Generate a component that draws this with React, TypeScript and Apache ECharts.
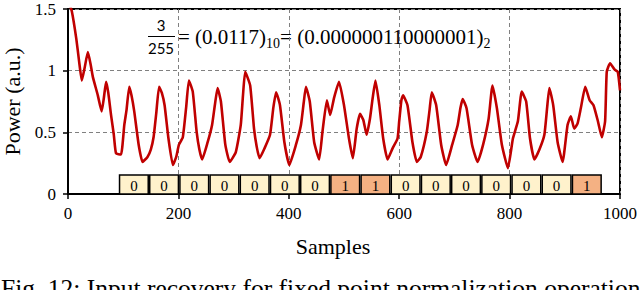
import React, { useEffect, useRef } from "react";
import * as echarts from "echarts";

// ---- data ----
const samples = [
  0, 7, 15, 20, 25, 30, 36, 41, 45, 54, 61, 65, 69, 73, 78, 83, 87, 96, 102, 106,
  111, 115, 120, 128, 135, 144, 150, 155, 160, 165, 170, 175, 182, 190, 196, 201,
  208, 214, 219, 226, 233, 238, 243, 253, 261, 266, 271, 277, 285, 293, 304, 313,
  317, 321, 330, 337, 342, 347, 356, 366, 372, 377, 384, 392, 401, 413, 422, 427,
  431, 438, 446, 455, 461, 469, 475, 482, 491, 500, 509, 516, 523, 529, 535, 541,
  547, 552, 557, 564, 571, 579, 588, 597, 600, 604, 607, 615, 624, 632, 639, 650,
  655, 659, 667, 676, 685, 696, 706, 711, 715, 722, 732, 742, 752, 762, 769, 777,
  786, 797, 806, 815, 822, 830, 837, 845, 854, 863, 868, 872, 879, 887, 896, 905,
  911, 917, 923, 929, 937, 945, 952, 960, 967, 973, 976, 982, 990, 996, 1000,
];
const power = [
  1.58, 1.48, 1.26, 1.08, 0.92, 1.02, 1.15, 1.05, 0.95, 0.8, 0.67, 0.78, 0.91, 0.82, 0.64, 0.48, 0.33, 0.32, 0.56, 0.68,
  0.87, 0.8, 0.67, 0.4, 0.26, 0.3, 0.36, 0.46, 0.66, 0.87, 0.82, 0.72, 0.45, 0.235, 0.3, 0.4,
  0.46, 0.7, 0.92, 0.83, 0.505, 0.36, 0.28, 0.42, 0.56, 0.72, 0.86, 0.75, 0.4, 0.26, 0.34, 0.56,
  0.8, 0.99, 0.88, 0.53, 0.38, 0.29, 0.37, 0.48, 0.7, 0.825, 0.72, 0.42, 0.235, 0.4, 0.56, 0.74,
  0.87, 0.75, 0.42, 0.28, 0.505, 0.76, 0.64, 0.78, 0.91, 0.72, 0.45, 0.29, 0.53, 0.65, 0.6, 0.48,
  0.61, 0.78, 0.92, 0.72, 0.45, 0.28, 0.37, 0.45, 0.59, 0.76, 0.8, 0.72, 0.42, 0.26, 0.3, 0.505,
  0.68, 0.825, 0.72, 0.4, 0.235, 0.4, 0.56, 0.7, 0.77, 0.695, 0.4, 0.26, 0.4, 0.61, 0.88, 0.695,
  0.4, 0.21, 0.45, 0.59, 0.83, 0.75, 0.45, 0.28, 0.36, 0.48, 0.7, 0.86, 0.72, 0.42, 0.26, 0.56,
  0.63, 0.53, 0.57, 0.695, 0.87, 0.76, 0.72, 0.59, 0.46, 0.59, 0.99, 1.06, 1.01, 0.99, 0.84,
];
const bits = [0, 0, 0, 0, 0, 0, 0, 1, 1, 0, 0, 0, 0, 0, 0, 1];
const xTicks = { min: 0, max: 1000, interval: 200 };
const yTicks = { min: 0, max: 1.5, interval: 0.5 };

// bit boxes placement in data units
const BIT_START = 92;
const BIT_WIDTH = 54.7;
const BOX_TOP = 0.154;
const BOX_BOTTOM = 0;

const SERIF = '"Liberation Serif", "Times New Roman", serif';

export default function App() {
  const ref = useRef<HTMLDivElement>(null);
  useEffect(() => {
    if (!ref.current) return;
    const chart = echarts.init(ref.current, null, { renderer: "svg" });
    const axisText = { color: "#000", fontFamily: SERIF, fontSize: 17, formatter: (v: number) => String(v) };
    const option: any = {
      animation: false,
      grid: {
        left: 68,
        right: 20,
        top: 9,
        bottom: 96,
        show: true,
        borderColor: "#000",
        borderWidth: 2,
        containLabel: false,
        outerBoundsMode: "none",
      },
      xAxis: {
        type: "value",
        ...xTicks,
        name: "Samples",
        nameLocation: "middle",
        nameGap: 41,
        nameTextStyle: { color: "#000", fontFamily: SERIF, fontSize: 22, padding: [0, 22, 0, 0] },
        axisLine: { show: true, lineStyle: { color: "#000", width: 2 } },
        axisTick: { show: true, length: 5, lineStyle: { color: "#000", width: 1.5 } },
        axisLabel: { ...axisText, margin: 11 },
        splitLine: { show: true, lineStyle: { color: "#808080", type: [4, 3], width: 1 } },
      },
      yAxis: {
        type: "value",
        ...yTicks,
        name: "Power (a.u.)",
        nameLocation: "middle",
        nameGap: 39,
        nameTextStyle: { color: "#000", fontFamily: SERIF, fontSize: 22 },
        axisLine: { show: true, lineStyle: { color: "#000", width: 2 } },
        axisTick: { show: true, length: 5, lineStyle: { color: "#000", width: 1.5 } },
        axisLabel: { ...axisText, margin: 12 },
        splitLine: { show: true, lineStyle: { color: "#808080", type: [4, 3], width: 1 } },
      },
      series: [
        {
          type: "line",
          data: samples.map((s, i) => [s, power[i]]),
          showSymbol: false,
          smooth: 0.15,
          clip: true,
          lineStyle: { color: "#C00000", width: 2.6 },
          z: 2,
        },
        {
          type: "custom",
          coordinateSystem: "cartesian2d",
          clip: false,
          z: 3,
          data: bits.map((b, i) => [i, b]),
          renderItem: (params: any, api: any) => {
            const i = api.value(0);
            const b = api.value(1);
            const p0 = api.coord([BIT_START + i * BIT_WIDTH, BOX_TOP]);
            const p1 = api.coord([BIT_START + (i + 1) * BIT_WIDTH, BOX_BOTTOM]);
            return {
              type: "group",
              children: [
                {
                  type: "rect",
                  shape: { x: p0[0] + 0.75, y: p0[1], width: p1[0] - p0[0] - 1.5, height: p1[1] - p0[1] },
                  style: { fill: b ? "#F4B183" : "#FFF2CC", stroke: "#000", lineWidth: 1.5 },
                },
                {
                  type: "text",
                  style: {
                    text: String(b),
                    x: (p0[0] + p1[0]) / 2,
                    y: (p0[1] + p1[1]) / 2 + 1,
                    align: "center",
                    verticalAlign: "middle",
                    font: `15px ${SERIF}`,
                    fill: "#000",
                  },
                },
              ],
            };
          },
        },
      ],
      graphic: [
        {
          type: "text",
          x: 161,
          y: 25,
          style: { text: "3", font: '15px Lato, "Liberation Sans", sans-serif', fill: "#000", align: "center", verticalAlign: "middle" },
        },
        {
          type: "line",
          shape: { x1: 148, y1: 36.5, x2: 175, y2: 36.5 },
          style: { stroke: "#000", lineWidth: 1 },
        },
        {
          type: "text",
          x: 161,
          y: 48,
          style: { text: "255", font: '15px Lato, "Liberation Sans", sans-serif', fill: "#000", align: "center", verticalAlign: "middle" },
        },
        {
          type: "text",
          x: 178,
          y: 37,
          style: {
            text: "{m|= (0.0117)}{s|10}{m|= (0.000000110000001)}{s|2}",
            verticalAlign: "middle",
            rich: {
              m: { fontFamily: SERIF, fontSize: 21, color: "#000", lineHeight: 26, verticalAlign: "middle" },
              s: { fontFamily: SERIF, fontSize: 14, color: "#000", lineHeight: 14, verticalAlign: "bottom" },
            },
          },
        },
        {
          type: "text",
          x: 1,
          y: 275,
          style: {
            text: "Fig. 12: Input recovery for fixed point normalization operation",
            font: `25.5px ${SERIF}`,
            fill: "#000",
            verticalAlign: "top",
          },
        },
      ],
    };
    chart.setOption(option);
    return () => chart.dispose();
  }, []);
  return <div ref={ref} style={{ position: "absolute", left: 0, top: 0, width: 640, height: 290 }} />;
}
